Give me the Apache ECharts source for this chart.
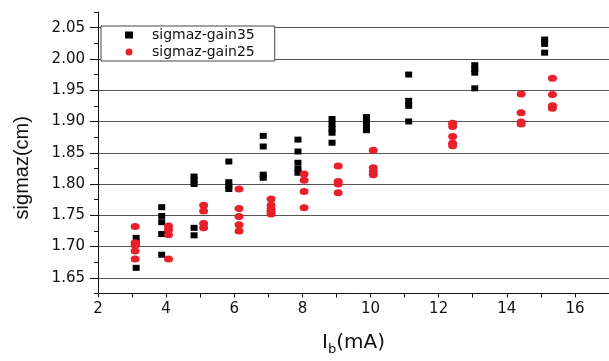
<!DOCTYPE html>
<html>
<head>
<meta charset="utf-8">
<script src="https://cdn.jsdelivr.net/npm/echarts@6/dist/echarts.min.js"></script>
<style>
  html, body { margin: 0; padding: 0; background: #fff; }
  #chart { width: 609px; height: 361px; }
</style>
</head>
<body>
<div id="chart"></div>
<script>
// sigmaz vs beam current, two gain settings
const gain35 = [
  [3.12, 1.714], [3.12, 1.705], [3.12, 1.666],
  [3.87, 1.763], [3.87, 1.749], [3.87, 1.739], [3.87, 1.720], [3.87, 1.687],
  [4.82, 1.812], [4.82, 1.806], [4.82, 1.800], [4.82, 1.730], [4.82, 1.718],
  [5.84, 1.836], [5.84, 1.803], [5.84, 1.797], [5.84, 1.792],
  [6.85, 1.877], [6.85, 1.860], [6.85, 1.815], [6.85, 1.810],
  [7.87, 1.871], [7.87, 1.852], [7.87, 1.834], [7.87, 1.824], [7.87, 1.818],
  [8.87, 1.904], [8.87, 1.896], [8.87, 1.888], [8.87, 1.882], [8.87, 1.866],
  [9.88, 1.907], [9.88, 1.900], [9.88, 1.893], [9.88, 1.886],
  [11.12, 1.975], [11.12, 1.933], [11.12, 1.925], [11.12, 1.900],
  [13.06, 1.990], [13.06, 1.984], [13.06, 1.978], [13.06, 1.953],
  [15.11, 2.031], [15.11, 2.024], [15.11, 2.010]
];

const gain25 = [
  [3.09, 1.732], [3.09, 1.706], [3.09, 1.702], [3.09, 1.693], [3.09, 1.680],
  [4.07, 1.733], [4.07, 1.727], [4.07, 1.719], [4.07, 1.680],
  [5.10, 1.766], [5.10, 1.757], [5.10, 1.737], [5.10, 1.730],
  [6.14, 1.792], [6.14, 1.761], [6.14, 1.748], [6.14, 1.735], [6.14, 1.725],
  [7.08, 1.776], [7.08, 1.766], [7.08, 1.760], [7.08, 1.756], [7.08, 1.752],
  [8.05, 1.816], [8.05, 1.806], [8.05, 1.788], [8.05, 1.762],
  [9.05, 1.829], [9.05, 1.804], [9.05, 1.800], [9.05, 1.786],
  [10.08, 1.854], [10.08, 1.826], [10.08, 1.820], [10.08, 1.815],
  [12.41, 1.897], [12.41, 1.892], [12.41, 1.876], [12.41, 1.865], [12.41, 1.861],
  [14.42, 1.944], [14.42, 1.914], [14.42, 1.899], [14.42, 1.896],
  [15.34, 1.969], [15.34, 1.943], [15.34, 1.925], [15.34, 1.921]
];

const seriesNames = ['sigmaz-gain35', 'sigmaz-gain25'];
const xTicks = [2, 4, 6, 8, 10, 12, 14, 16];
const yTicks = ['1.65', '1.70', '1.75', '1.80', '1.85', '1.90', '1.95', '2.00', '2.05'];

const chart = echarts.init(document.getElementById('chart'));

const tickFont = 'DejaVu Sans';

const option = {
  backgroundColor: '#fff',
  animation: false,
  grid: {
    left: 98,
    right: -8,
    top: 12,
    bottom: 58
  },
  legend: {
    left: 101,
    top: 26,
    orient: 'vertical',
    padding: [2, 20, 2, 24],
    itemGap: 3,
    itemWidth: 8,
    itemHeight: 7,
    backgroundColor: '#fff',
    borderColor: '#444',
    borderWidth: 1,
    borderRadius: 0,
    itemStyle: { opacity: 1 },
    textStyle: {
      fontFamily: tickFont,
      fontSize: 14,
      lineHeight: 14,
      color: '#111',
      padding: [0, 0, 0, 14]
    },
    data: [
      { name: seriesNames[0], icon: 'rect' },
      { name: seriesNames[1], icon: 'circle' }
    ]
  },
  xAxis: {
    type: 'value',
    min: 2,
    max: 17,
    interval: 1,
    name: '{n|I}{s|b}{n|(mA)}',
    nameLocation: 'middle',
    nameGap: 38,
    nameTextStyle: {
      rich: {
        n: { fontFamily: tickFont, fontSize: 20, color: '#111', lineHeight: 22 },
        s: { fontFamily: tickFont, fontSize: 13, color: '#111', lineHeight: 22, padding: [14, 0, 0, 0] }
      }
    },
    axisLine: { show: true, onZero: false, lineStyle: { color: '#111', width: 1 } },
    axisTick: { show: true, length: 4, lineStyle: { color: '#111' } },
    axisLabel: {
      fontFamily: tickFont,
      fontSize: 15,
      color: '#111',
      margin: 8,
      showMaxLabel: false,
      formatter: v => (xTicks.indexOf(v) >= 0 ? String(v) : '')
    },
    splitLine: { show: false }
  },
  yAxis: [
    {
      type: 'value',
      min: 1.625,
      max: 2.075,
      splitNumber: 9,
      position: 'left',
      name: 'sigmaz(cm)',
      nameLocation: 'middle',
      nameGap: 66,
      nameTextStyle: {
        fontFamily: 'Liberation Sans',
        fontSize: 20,
        color: '#111',
        padding: [0, 30, 0, 0]
      },
      axisLine: { show: true, onZero: false, lineStyle: { color: '#111', width: 1 } },
      axisTick: { show: true, length: 8, lineStyle: { color: '#111' } },
      axisLabel: {
        fontFamily: tickFont,
        fontSize: 15,
        color: '#111',
        margin: 13,
        showMinLabel: false,
        showMaxLabel: false,
        formatter: v => {
          const s = v.toFixed(2);
          return yTicks.indexOf(s) >= 0 && Math.abs(v - Number(s)) < 1e-6 ? s : '';
        }
      },
      splitLine: {
        show: true,
        showMinLine: false,
        showMaxLine: false,
        lineStyle: { color: '#555', width: 1 }
      }
    },
    {
      type: 'value',
      min: 1.625,
      max: 2.075,
      interval: 0.025,
      position: 'left',
      axisLine: { show: false },
      axisTick: { show: true, length: 4, lineStyle: { color: '#111' } },
      axisLabel: { show: false },
      splitLine: { show: false }
    }
  ],
  series: [
    {
      name: seriesNames[0],
      type: 'scatter',
      yAxisIndex: 0,
      symbol: 'rect',
      symbolSize: [7, 6],
      itemStyle: { color: '#000', opacity: 1 },
      data: gain35
    },
    {
      name: seriesNames[1],
      type: 'scatter',
      yAxisIndex: 0,
      symbol: 'circle',
      symbolSize: [9, 7],
      itemStyle: { color: '#e8202a', opacity: 1 },
      data: gain25
    }
  ]
};

chart.setOption(option);
</script>
</body>
</html>
